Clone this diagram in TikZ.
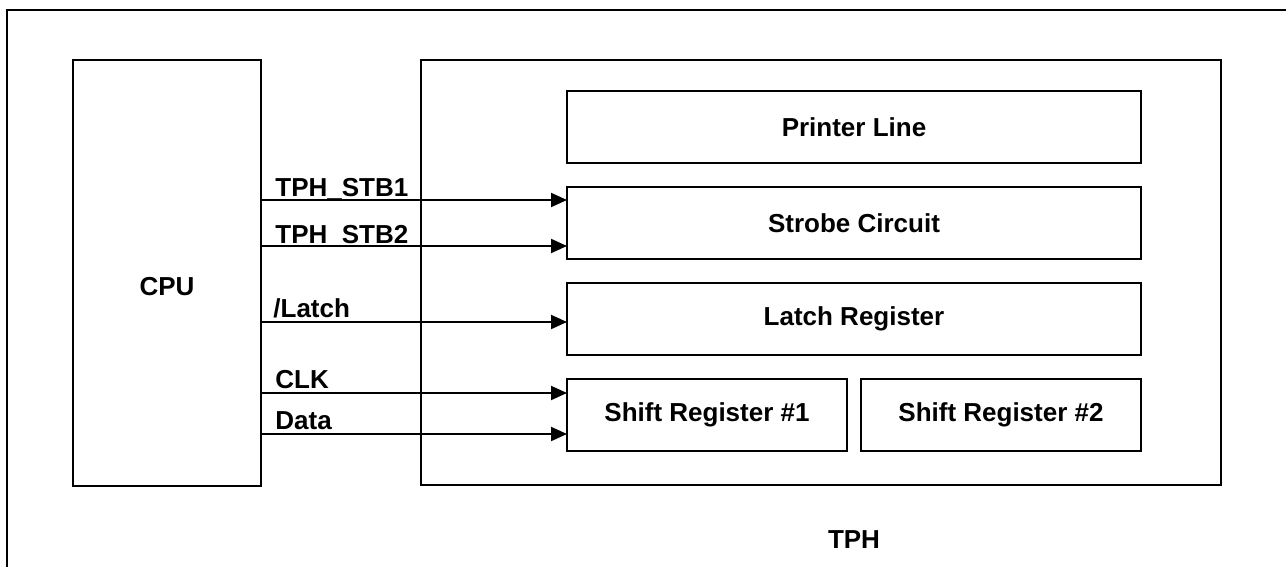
\documentclass[tikz,border=0pt]{standalone}
\usepackage{fontspec}
\setmainfont{Liberation Sans}
\usetikzlibrary{arrows.meta}
\begin{document}
\begin{tikzpicture}[x=0.5pt,y=-0.5pt,
  box/.style={draw,line width=1pt,inner sep=0pt,outer sep=0pt,font=\fontsize{13pt}{15pt}\selectfont\bfseries},
  lbl/.style={inner sep=0pt,font=\fontsize{13pt}{15pt}\selectfont\bfseries},
  arr/.style={line width=1pt,-{Triangle[length=8pt,width=7pt]}}]
\clip (0,0) rectangle (1286,567);
\useasboundingbox (0,0) rectangle (1286,567);
\draw[line width=1pt] (7,10) rectangle (1400,700);
\node[box,minimum width=94pt,minimum height=213pt] (cpu) at (167,273) {};
\node[lbl] (cpulbl) at (167,287) {CPU};
\node[box,minimum width=400pt,minimum height=212.5pt] (tph) at (821,272.5) {};
\node[lbl] (tphlbl) at (854,540) {TPH};
\node[box,minimum width=287pt,minimum height=36pt] (printer) at (854,127) {Printer Line};
\node[box,minimum width=287pt,minimum height=36pt] (strobe) at (854,223) {Strobe Circuit};
\node[box,minimum width=287pt,minimum height=36pt] (latch) at (854,319) {Latch Register};
\node[box,minimum width=140pt,minimum height=36pt] (sr1) at (707,415) {Shift Register \#1};
\node[box,minimum width=140pt,minimum height=36pt] (sr2) at (1001,415) {Shift Register \#2};
\draw[arr] (cpu.east |- 0,200) -- (strobe.west |- 0,200);
\draw[arr] (cpu.east |- 0,246) -- (strobe.west |- 0,246);
\draw[arr] (cpu.east |- 0,322) -- (latch.west |- 0,322);
\draw[arr] (cpu.east |- 0,393) -- (sr1.west |- 0,393);
\draw[arr] (cpu.east |- 0,434) -- (sr1.west |- 0,434);
\node[lbl,anchor=base west] (l1) at (275,197) {TPH\_STB1};
\node[lbl,anchor=base west] (l2) at (275,243) {TPH\_STB2};
\node[lbl,anchor=base west] (l3) at (273,317) {/Latch};
\node[lbl,anchor=base west] (l4) at (275,388) {CLK};
\node[lbl,anchor=base west] (l5) at (275,429) {Data};
\end{tikzpicture}
\end{document}
